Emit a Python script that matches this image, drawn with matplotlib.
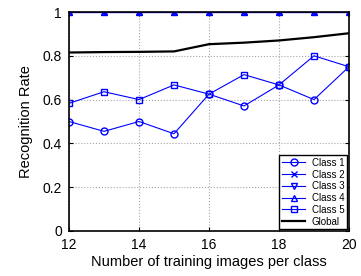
import numpy as np
import matplotlib.pyplot as plt

plt.rcParams['font.family'] = ['Liberation Sans', 'DejaVu Sans']

n_train = [12, 13, 14, 15, 16, 17, 18, 19, 20]
class1 = [0.5, 0.455, 0.5, 0.444, 0.625, 0.571, 0.667, 0.6, 0.75]
class2 = [1, 1, 1, 1, 1, 1, 1, 1, 1]
class3 = [1, 1, 1, 1, 1, 1, 1, 1, 1]
class4 = [1, 1, 1, 1, 1, 1, 1, 1, 1]
class5 = [0.583, 0.636, 0.6, 0.667, 0.625, 0.714, 0.667, 0.8, 0.75]
global_rate = [0.815, 0.817, 0.818, 0.82, 0.853, 0.86, 0.87, 0.885, 0.903]

fig = plt.figure(figsize=(3.61, 2.76), dpi=100)
ax = fig.add_axes([69/361, 1-231/276, 280/361, 219/276])

ms = 5
ax.plot(n_train, class1, 'o-', color='b', mfc='none', lw=0.8, ms=ms, label='Class 1')
ax.plot(n_train, class2, 'x-', color='b', lw=0.8, ms=ms, label='Class 2')
ax.plot(n_train, class3, 'v-', color='b', mfc='none', lw=0.8, ms=ms, label='Class 3')
ax.plot(n_train, class4, '^-', color='b', mfc='none', lw=0.8, ms=ms, label='Class 4')
ax.plot(n_train, class5, 's-', color='b', mfc='none', lw=0.8, ms=ms-0.7, label='Class 5')
ax.plot(n_train, global_rate, 'k-', lw=1.6, label='Global')

ax.set_xlim(12, 20)
ax.set_ylim(0, 1)
ax.set_xticks([12, 14, 16, 18, 20])
ax.set_yticks([0, 0.2, 0.4, 0.6, 0.8, 1])
ax.set_yticklabels(['0', '0.2', '0.4', '0.6', '0.8', '1'])
ax.grid(True, ls=':', color='0.65', lw=0.8)
ax.tick_params(direction='in', top=True, right=True, labelsize=10, length=3)
ax.tick_params(axis='x', pad=5)
ax.tick_params(axis='y', pad=5)
for s in ax.spines.values():
    s.set_linewidth(1.2)
ax.set_xlabel('Number of training images per class', fontsize=10.5, labelpad=2)
ax.set_ylabel('Recognition Rate', fontsize=10.5, labelpad=7)

leg = ax.legend(loc='lower right', fontsize=7, fancybox=False, edgecolor='k',
                framealpha=1, handlelength=2.4, labelspacing=0.18,
                borderpad=0.25, handletextpad=0.7, borderaxespad=0.2)
leg.get_frame().set_linewidth(1.0)

fig.savefig('out.png', dpi=100)
